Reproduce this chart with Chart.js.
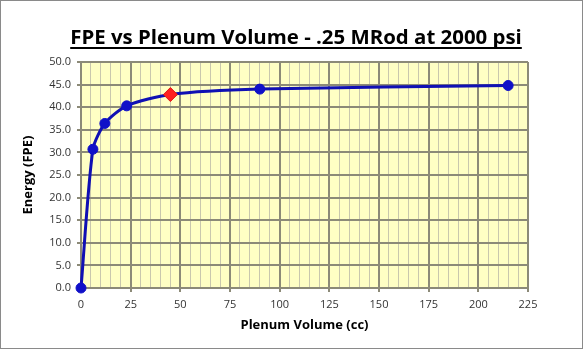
<!DOCTYPE html>
<html>
<head>
<meta charset="utf-8">
<script src="https://cdn.jsdelivr.net/npm/chart.js@4/dist/chart.umd.min.js"></script>
<style>
  html, body { margin: 0; padding: 0; background: #fff; }
  #wrap { width: 583px; height: 349px; position: relative; }
</style>
</head>
<body>
<div id="wrap"><canvas id="chart" width="583" height="349"></canvas></div>
<script>
// plenum volume (cc) and muzzle energy (FPE)
const plenumVolume = [0, 6, 12, 23, 45, 90, 215];
const energyFPE = [0, 30.7, 36.4, 40.3, 42.8, 44.0, 44.8];
const highlightIndex = 4; // the 45 cc point is shown as a red diamond

const titleText = 'FPE vs Plenum Volume - .25 MRod at 2000 psi';
const FONT = "'Open Sans', 'DejaVu Sans', sans-serif";

const majorGrid = '#8c8a78';
const minorGrid = '#c9c7ad';

// yellow plot background, outer frame and underlined title
const decorPlugin = {
  id: 'decor',
  beforeDraw(chart) {
    const { ctx, chartArea: a } = chart;
    ctx.save();
    ctx.fillStyle = '#ffffc4';
    ctx.fillRect(a.left, a.top, a.right - a.left, a.bottom - a.top);
    ctx.restore();
  },
  afterDraw(chart) {
    const ctx = chart.ctx;
    ctx.save();
    ctx.strokeStyle = '#8a8a8a';
    ctx.lineWidth = 1;
    ctx.strokeRect(0.5, 0.5, chart.width - 1, chart.height - 1);

    let size = 24;
    ctx.font = `bold ${size}px ${FONT}`;
    const w = ctx.measureText(titleText).width;
    size = size * 452 / w;
    ctx.font = `bold ${size}px ${FONT}`;
    const tw = ctx.measureText(titleText).width;
    const cx = 296;
    ctx.fillStyle = '#000';
    ctx.textAlign = 'center';
    ctx.textBaseline = 'alphabetic';
    ctx.fillText(titleText, cx, 44);
    ctx.fillRect(cx - tw / 2, 47, tw, 2);
    ctx.restore();
  }
};

const points = plenumVolume.map((v, i) => ({ x: v, y: energyFPE[i] }));

new Chart(document.getElementById('chart'), {
  type: 'scatter',
  data: {
    datasets: [{
      data: points,
      showLine: true,
      clip: false,
      borderColor: '#1010b4',
      borderWidth: 3,
      tension: 0.25,
      pointStyle: points.map((p, i) => i === highlightIndex ? 'rectRot' : 'circle'),
      pointRadius: points.map((p, i) => i === highlightIndex ? 7 : 5),
      pointBackgroundColor: points.map((p, i) => i === highlightIndex ? '#ff2020' : '#1010c8'),
      pointBorderColor: points.map((p, i) => i === highlightIndex ? '#e01818' : '#1010c8'),
      pointBorderWidth: 1
    }]
  },
  options: {
    responsive: false,
    animation: false,
    layout: { padding: { top: 62, right: 55, bottom: 0, left: 0 } },
    plugins: {
      legend: { display: false },
      tooltip: { enabled: false }
    },
    scales: {
      x: {
        type: 'linear',
        min: 0,
        max: 225,
        afterFit(scale) { scale.height = 61; },
        ticks: {
          stepSize: 5,
          autoSkip: false,
          maxRotation: 0,
          padding: 6,
          color: '#333',
          font: { family: FONT, size: 11 },
          callback: v => (v % 25 === 0 ? v : '')
        },
        grid: {
          color: c => (c.tick && c.tick.value % 25 === 0 ? majorGrid : minorGrid),
          lineWidth: c => (c.tick && c.tick.value % 25 === 0 ? 2 : 1),
          tickColor: c => (c.tick && c.tick.value % 25 === 0 ? majorGrid : 'rgba(0,0,0,0)'),
          tickLength: 4
        },
        border: { color: majorGrid, width: 2 },
        title: {
          display: true,
          text: 'Plenum Volume (cc)',
          color: '#000',
          font: { family: FONT, size: 13, weight: 'bold' },
          padding: { top: 0, bottom: 16 }
        }
      },
      y: {
        min: 0,
        max: 50,
        afterFit(scale) { scale.width = 81; },
        ticks: {
          stepSize: 5,
          padding: 6,
          color: '#333',
          font: { family: FONT, size: 11 },
          callback: v => v.toFixed(1)
        },
        grid: {
          color: majorGrid,
          lineWidth: 2,
          tickLength: 4
        },
        border: { color: majorGrid, width: 2 },
        title: {
          display: true,
          text: 'Energy (FPE)',
          color: '#000',
          font: { family: FONT, size: 13, weight: 'bold' },
          padding: { top: 20, bottom: 0 }
        }
      }
    }
  },
  plugins: [decorPlugin]
});
</script>
</body>
</html>
